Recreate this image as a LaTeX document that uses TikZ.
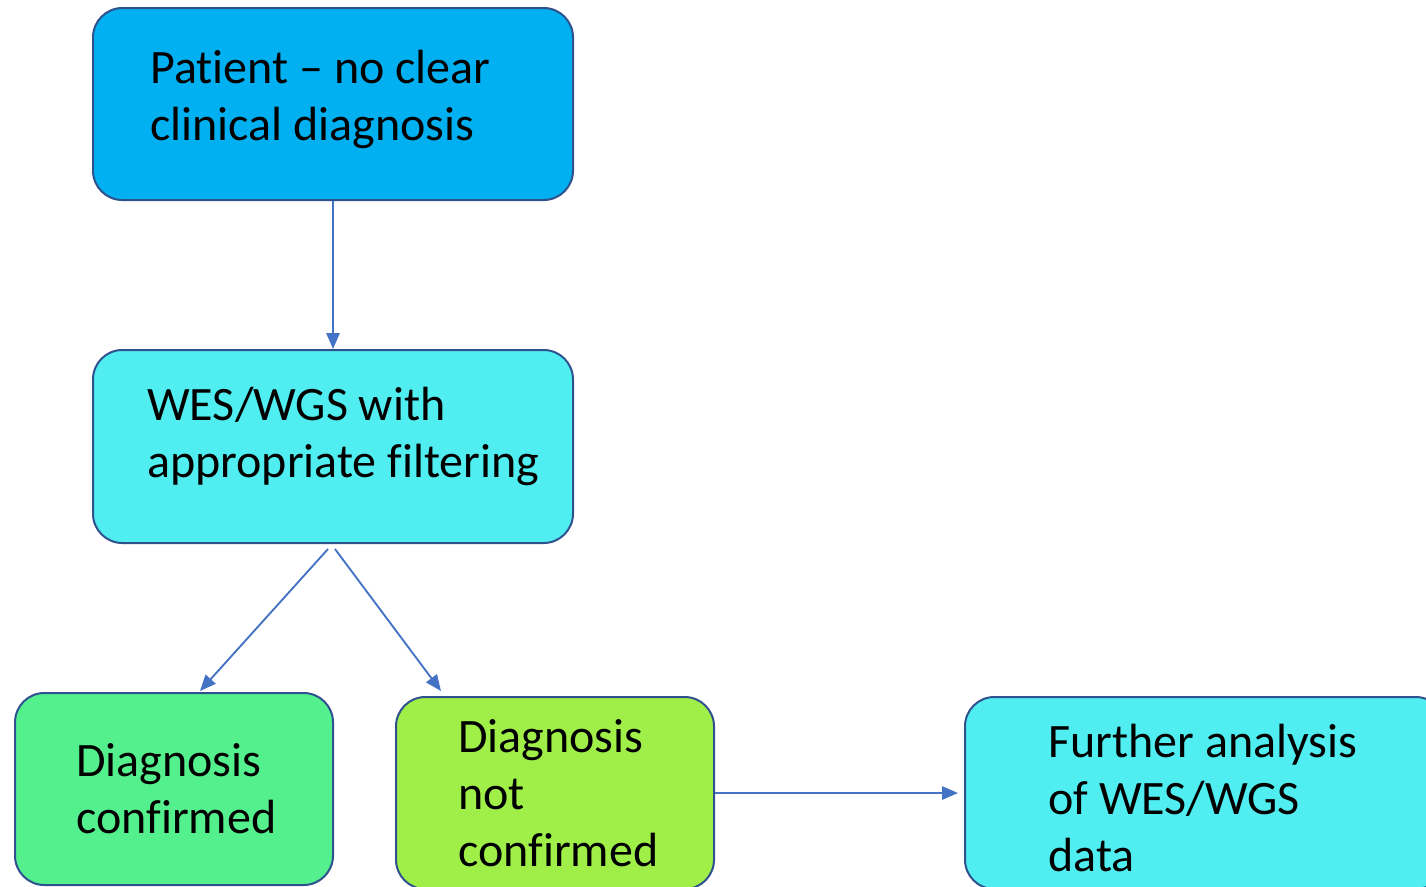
\documentclass[tikz,border=0pt]{standalone}
\usepackage{fontspec}
\setmainfont{Carlito}[Ligatures=NoCommon]
\usetikzlibrary{arrows.meta}
\definecolor{boxline}{RGB}{47,82,143}
\definecolor{arrline}{RGB}{68,114,196}
\definecolor{patientblue}{RGB}{0,176,240}
\definecolor{wescyan}{RGB}{80,238,240}
\definecolor{confgreen}{RGB}{84,240,142}
\definecolor{notlime}{RGB}{160,238,72}
\tikzset{
  stepbox/.style={draw=boxline, line width=1.5pt, rounded corners=22pt, inner sep=0pt},
  boxtext/.style={anchor=base west, align=left, inner sep=0pt, font=\fontsize{36}{42.75}\selectfont},
  arr/.style={draw=arrline, line width=1.4pt, -{Triangle[length=12pt,width=10pt]}}
}
\begin{document}
\begin{tikzpicture}[x=0.75pt,y=0.75pt,yscale=-1,xscale=1]
				\useasboundingbox (0,0) rectangle (1426,886);
				\clip (0,0) rectangle (1426,886);
				
				%Shape: Rounded Rect [id:patient] 
				\node [stepbox, fill=patientblue, minimum width=360pt, minimum height=144pt] (patient) at (333,104) {};
				%Shape: Rounded Rect [id:wes] 
				\node [stepbox, fill=wescyan, minimum width=360pt, minimum height=144.75pt] (wes) at (333,446.5) {};
				%Shape: Rounded Rect [id:confirmed] 
				\node [stepbox, fill=confgreen, minimum width=238.5pt, minimum height=144pt] (confirmed) at (174,789) {};
				%Shape: Rounded Rect [id:notconfirmed] 
				\node [stepbox, fill=notlime, minimum width=238.5pt, minimum height=144pt] (notconfirmed) at (555,793) {};
				%Shape: Rounded Rect [id:further] 
				\node [stepbox, fill=wescyan, minimum width=360pt, minimum height=144pt] (further) at (1205,793) {};
				
				%Straight Lines [id:arrows] 
				\draw [arr] (patient.south) -- (wes.north);
				\draw [arr] ([shift={(-5,5)}]wes.south) -- ([shift={(26,-1)}]confirmed.north);
				\draw [arr] ([shift={(2,5)}]wes.south) -- ([shift={(-114,-5)}]notconfirmed.north);
				\draw [arr] (notconfirmed.east) -- ([xshift=-4.5]further.west);
				
				% Text Node
				\node [boxtext] (patienttext) at (150,140) {Patient -- no clear\\clinical diagnosis};
				% Text Node
				\node [boxtext] (westext) at (147,477) {WES/WGS with\\appropriate filtering};
				% Text Node
				\node [boxtext] (confirmedtext) at (76,833) {Diagnosis\\confirmed};
				% Text Node
				\node [boxtext] (notconfirmedtext) at (458,866) {Diagnosis\\not\\confirmed};
				% Text Node
				\node [boxtext] (furthertext) at (1048,871) {Further analysis\\of WES/WGS\\data};
				
\end{tikzpicture}
\end{document}
